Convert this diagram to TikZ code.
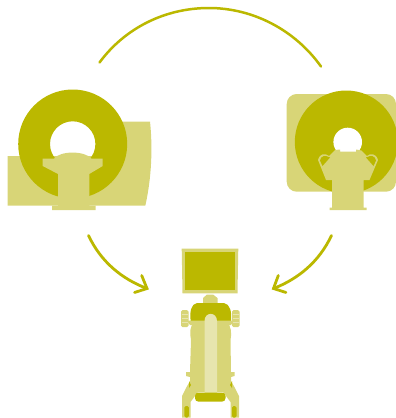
\documentclass[tikz,border=0pt]{standalone}
\definecolor{dk}{HTML}{BBB800}
\definecolor{lt}{HTML}{D8D577}
\definecolor{pl}{HTML}{E7E5AE}
\tikzset{
  flow/.style={draw=dk,line width=2.8pt,line cap=round,line join=miter},
  darkfill/.style={fill=dk,draw=none},
  lightfill/.style={fill=lt,draw=none},
  palefill/.style={fill=pl,draw=none}
}
\begin{document}
\begin{tikzpicture}[x=1pt,y=-1pt]
\useasboundingbox (0,0) rectangle (396,418);
% connector end points
\coordinate (topA) at (99.5,62.5);
\coordinate (topB) at (321,66.5);
\coordinate (leftA) at (88.5,235.5);
\coordinate (leftB) at (147,288.5);
\coordinate (rightA) at (331.5,235.5);
\coordinate (rightB) at (273.5,288.5);
% connectors
\draw[flow,line width=2.5pt] (topA) .. controls (125,28) and (165,8) .. (209,8) .. controls (253,8) and (295,30) .. (topB);
\draw[flow] (leftA) .. controls (101,262) and (122,279) .. (leftB);
\draw[flow] (141.7,275.5) -- (leftB) -- (134.5,292.5);
\draw[flow] (rightA) .. controls (319,262) and (298,279) .. (rightB);
\draw[flow] (278.3,275.5) -- (rightB) -- (286,292.5);
% left scanner
\path[lightfill] (7.5,156) -- (7.5,205.7) -- (145.3,205.7) .. controls (150,185) and (153.5,155) .. (150,121.5) -- (115,121.5) -- (115,156) -- cycle;
\path[darkfill,even odd rule] (72.7,144) circle (54.5) (72.7,144) circle (22.7);
\path[lightfill] (42.7,158.7) -- (54,158.7) .. controls (60,150.5) and (85,150.5) .. (91.5,158.7) -- (102.7,158.7) -- (102.7,166) -- (89.3,174) -- (89.3,205.7) -- (95.7,205.7) -- (95.7,210) -- (52,210) -- (52,205.7) -- (58,205.7) -- (58,174) -- (42.7,166) -- cycle;
% right scanner
\path[lightfill,rounded corners=10pt] (286.7,94) rectangle (396,191.7);
\path[darkfill] (346.3,142) circle (51.5);
\path[fill=white] (347.7,142) circle (14.3);
\path[lightfill] (335,150) -- (340,149.5) -- (340,151.5) -- (356,151.5) -- (356,149.5) -- (361.5,150.5) -- (367,156) .. controls (370,153) and (376,153) .. (378,160) -- (369.5,180) -- (363.5,180) -- (363.5,207.5) -- (366.5,207.5) -- (366.5,210) -- (329.5,210) -- (329.5,207.5) -- (332,207.5) -- (332,180) -- (326,180) -- (318,160) .. controls (320,153) and (325,153) .. (329,156) -- cycle;
\path[darkfill] (320,160.5) .. controls (321,155.5) and (325,155) .. (330,157.5) -- (322.5,166) -- cycle;
\path[darkfill] (376,160.5) .. controls (375,155.5) and (371,155) .. (366,157.5) -- (373.5,166) -- cycle;
% cart monitor
\path[lightfill] (181.7,248.5) -- (238.3,248.5) -- (237.5,293.3) -- (182.5,293.3) -- cycle;
\path[darkfill] (185,251.7) rectangle (235,289.5);
\path[lightfill] (207,294.5) -- (213,294.5) -- (217.5,298) -- (217.5,303) -- (213.5,306) -- (206.5,306) -- (203,303) -- (203,298) -- cycle;
% cart handles
\path[lightfill,rounded corners=1.5pt] (181,310) rectangle (188.5,327);
\path[lightfill,rounded corners=1.5pt] (232,310) rectangle (239.5,327);
\foreach \yy in {314,318,322}{
  \draw[pl,line width=0.7pt] (181.5,\yy) -- (188,\yy);
  \draw[pl,line width=0.7pt] (232.5,\yy) -- (239,\yy);
}
% cart body
\path[lightfill] (191,340) .. controls (189.5,333) and (190,326) .. (194,322) -- (227,322) .. controls (231,326) and (232,333) .. (230.5,340) -- (231,372) -- (234.5,372) -- (234.5,376) -- (231,377) -- (231,392) -- (190,392) -- (190,377) -- (186,376) -- (186,372) -- (190,372) -- cycle;
\path[darkfill] (190.7,321) .. controls (189.5,312) and (191,304) .. (197,303) -- (224,303) .. controls (230,304) and (232,312) .. (231,321) -- cycle;
\path[lightfill] (187,320.5) -- (234,320.5) -- (231,325) -- (190,325) -- cycle;
\path[palefill] (204.5,393) -- (204.5,321) .. controls (204.5,311.5) and (217,311.5) .. (217,321) -- (217,393) -- cycle;
% cart base
\path[lightfill,line join=round] (190,381) -- (186,388) -- (182,396) -- (182,417.5) -- (190.5,417.5) -- (190.5,402) -- (198,392) -- cycle;
\path[lightfill,line join=round] (231,381) -- (235,388) -- (239,396) -- (239,417.5) -- (230.5,417.5) -- (230.5,402) -- (223,392) -- cycle;
\path[darkfill,rounded corners=3.5pt] (195,392.5) rectangle (225.5,401.7);
\path[darkfill,rounded corners=1.5pt] (184.3,406) rectangle (188.8,417.5);
\path[darkfill,rounded corners=1.5pt] (232,406) rectangle (236.5,417.5);
\path[darkfill] (189,381) -- (191,385) -- (189,388) -- cycle;
\path[darkfill] (232,381) -- (230,385) -- (232,388) -- cycle;
\end{tikzpicture}
\end{document}
